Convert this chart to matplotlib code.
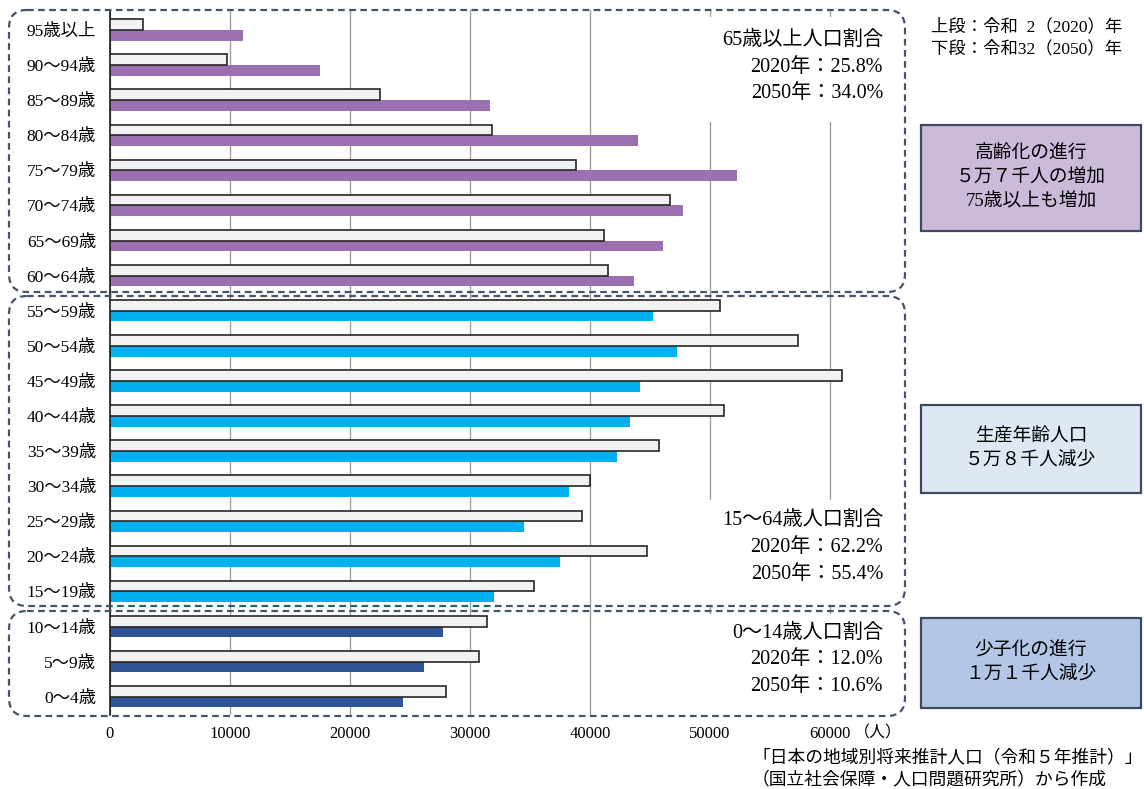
import numpy as np
import matplotlib
matplotlib.use("Agg")
import matplotlib.pyplot as plt
from matplotlib.patches import FancyBboxPatch, Rectangle
from matplotlib.transforms import Affine2D

# Population by 5-year age group (persons)
categories = ['95歳以上', '90～94歳', '85～89歳', '80～84歳', '75～79歳', '70～74歳',
              '65～69歳', '60～64歳', '55～59歳', '50～54歳', '45～49歳', '40～44歳',
              '35～39歳', '30～34歳', '25～29歳', '20～24歳', '15～19歳', '10～14歳',
              '5～9歳', '0～4歳']
pop_2020 = [2780, 9720, 22500, 31860, 38800, 46670, 41200, 41470, 50860, 57360,
            61000, 51170, 45780, 40000, 39300, 44750, 35300, 31440, 30780, 27970]
pop_2050 = [11100, 17500, 31670, 44030, 52280, 47780, 46050, 43700, 45280, 47220,
            44170, 43360, 42220, 38280, 34470, 37530, 32000, 27780, 26170, 24440]
# number of age groups in each band: 65+, 15-64, 0-14
group_sizes = [8, 9, 3]
group_colors = ['#9b6fb0', '#00b0f0', '#2f5597']
group_titles = ['65歳以上人口割合', '15～64歳人口割合', '0～14歳人口割合']
share_2020 = ['25.8%', '62.2%', '12.0%']
share_2050 = ['34.0%', '55.4%', '10.6%']
x_ticks = [0, 10000, 20000, 30000, 40000, 50000, 60000]
legend_lines = ['上段：令和  2（2020）年', '下段：令和32（2050）年']
notes = [['高齢化の進行', '５万７千人の増加', '75歳以上も増加'],
         ['生産年齢人口', '５万８千人減少'],
         ['少子化の進行', '１万１千人減少']]
note_colors = ['#ccbadb', '#dde8f4', '#b4c6e6']
source_lines = ['「日本の地域別将来推計人口（令和５年推計）」',
                '（国立社会保障・人口問題研究所）から作成']

FONT = ['Liberation Serif', 'Noto Sans CJK JP']
plt.rcParams['font.family'] = FONT

W, H = 1144, 789
fig = plt.figure(figsize=(W / 100, H / 100), dpi=100)
# pixel coordinates with origin at the top-left corner
px = Affine2D().scale(1 / W, -1 / H).translate(0, 1) + fig.transFigure

ax = fig.add_axes([110 / W, 1 - 715 / H, 780 / W, 705 / H])
n = len(categories)
ypos = np.arange(n)
bar_h = 0.305
colors_2050 = np.repeat(group_colors, group_sizes)

ax.barh(ypos + bar_h / 2, pop_2050, height=bar_h, color=colors_2050,
        linewidth=0, zorder=2)
ax.barh(ypos - bar_h / 2, pop_2020, height=bar_h, color='#f2f2f2',
        edgecolor='#262626', linewidth=1.2, zorder=3)

ax.set_ylim(n - 0.48, -0.57)
ax.set_xlim(0, 65000)
ax.set_yticks(ypos)
ax.set_yticklabels(categories, fontsize=12.5)
ax.set_xticks(x_ticks)
ax.set_xticklabels([str(v) for v in x_ticks], fontsize=12)
ax.tick_params(axis='both', length=0)
ax.tick_params(axis='y', pad=10)
ax.tick_params(axis='x', pad=8)
ax.xaxis.grid(True, color='#a0a0a0', linewidth=1.0)
ax.set_axisbelow(True)
for side in ['top', 'right', 'bottom']:
    ax.spines[side].set_visible(False)
ax.spines['left'].set_color('#1a1a1a')
ax.spines['left'].set_linewidth(1.2)
ax.patch.set_alpha(0)

fig.text(878, 733, '（人）', transform=px, fontsize=11.5, ha='center', va='center')

# white panels behind the share annotations
for (x0, y0, x1, y1) in [(700, 17, 890, 122), (700, 500, 890, 606), (700, 614, 890, 715)]:
    fig.add_artist(Rectangle((x0, y0), x1 - x0, y1 - y0, transform=px,
                             facecolor='white', edgecolor='none', zorder=1))

# dashed rounded frames around each age band
frames = [(9, 10, 905, 292), (9, 296, 905, 606), (9, 611, 905, 716)]
for (x0, y0, x1, y1) in frames:
    fig.add_artist(FancyBboxPatch((x0, y0), x1 - x0, y1 - y0,
                                  boxstyle='round,pad=0,rounding_size=18',
                                  transform=px, facecolor='none',
                                  edgecolor='#44546a', linewidth=1.6,
                                  linestyle=(0, (3.0, 2.0)), zorder=2))

# share annotations
share_y = [(40, 67, 93), (520, 548, 575), (633, 660, 687)]
for title, s20, s50, ys in zip(group_titles, share_2020, share_2050, share_y):
    for txt, yy in zip([title, '2020年：' + s20, '2050年：' + s50], ys):
        fig.text(883, yy, txt, transform=px, fontsize=14.5, ha='right',
                 va='center', zorder=3)

# legend for the upper/lower bars
for txt, yy in zip(legend_lines, [27, 49]):
    fig.text(931, yy, txt, transform=px, fontsize=12.5, ha='left', va='center')

# summary boxes on the right
note_boxes = [(921, 125, 1141, 231), (921, 405, 1141, 493), (921, 618, 1141, 708)]
for lines, fc, (x0, y0, x1, y1) in zip(notes, note_colors, note_boxes):
    fig.add_artist(Rectangle((x0, y0), x1 - x0, y1 - y0, transform=px,
                             facecolor=fc, edgecolor='#3b4a5e', linewidth=1.6,
                             zorder=2))
    cy = (y0 + y1) / 2
    step = 24
    start = cy - step * (len(lines) - 1) / 2
    for i, txt in enumerate(lines):
        fig.text((x0 + x1) / 2, start + i * step, txt, transform=px,
                 fontsize=13.5, ha='center', va='center', zorder=3)

# source
for txt, yy in zip(source_lines, [758, 780]):
    fig.text(752, yy, txt, transform=px, fontsize=12.8, ha='left', va='center')

fig.savefig('out.png', dpi=100, facecolor='white')
